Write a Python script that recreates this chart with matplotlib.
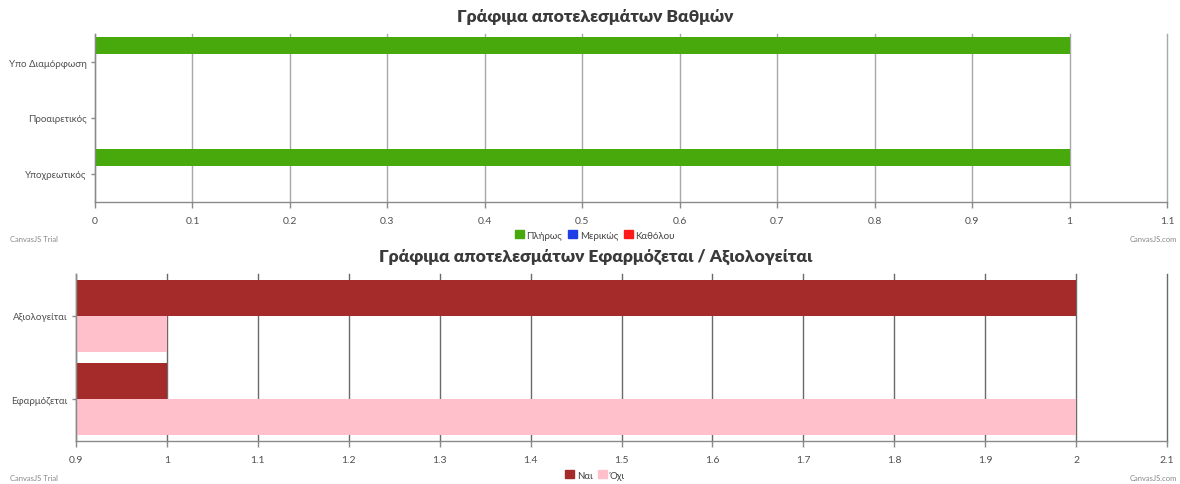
import numpy as np
import matplotlib
matplotlib.use("Agg")
import matplotlib.pyplot as plt
from matplotlib.patches import Patch

# top chart data
grade_cats = ["Υποχρεωτικός", "Προαιρετικός", "Υπο Διαμόρφωση"]
grade_series = ["Πλήρως", "Μερικώς", "Καθόλου"]
full = [1, 0, 1]
partial = [0, 0, 0]
none_ = [0, 0, 0]
grade_colors = ["#47A90C", "#1E3FE6", "#FF1A1A"]
grade_ticks = [0, 0.1, 0.2, 0.3, 0.4, 0.5, 0.6, 0.7, 0.8, 0.9, 1, 1.1]

# bottom chart data
apply_cats = ["Εφαρμόζεται", "Αξιολογείται"]
apply_series = ["Ναι", "Όχι"]
yes = [1, 2]
no = [2, 1]
apply_colors = ["#A52A2A", "#FFC0CB"]
apply_ticks = [0.9, 1, 1.1, 1.2, 1.3, 1.4, 1.5, 1.6, 1.7, 1.8, 1.9, 2, 2.1]

plt.rcParams["font.family"] = ["Lato", "DejaVu Sans"]
title_font = dict(family=["Lato", "DejaVu Sans"], fontsize=12.5,
                  fontweight="heavy", color="#3a3a3a")

fig = plt.figure(figsize=(11.8, 4.85), dpi=100)
fig.patch.set_facecolor("white")


def style_axes(ax, ticks, cats, gridcolor):
    ax.set_xlim(ticks[0], ticks[-1])
    ax.set_xticks(ticks)
    ax.set_xticklabels([f"{t:g}" for t in ticks])
    ax.set_ylim(-0.5, len(cats) - 0.5)
    ax.set_yticks(range(len(cats)))
    ax.set_yticklabels(cats)
    ax.grid(axis="x", color=gridcolor, lw=1)
    for gl in ax.get_xgridlines():
        gl.set_clip_on(False)
    ax.set_axisbelow(True)
    for s in ["top", "right"]:
        ax.spines[s].set_visible(False)
    for s in ["left", "bottom"]:
        ax.spines[s].set_color("#8a8a8a")
        ax.spines[s].set_linewidth(1)
    ax.tick_params(axis="both", colors="#8a8a8a", labelcolor="#505050",
                   labelsize=7, width=1)
    ax.tick_params(axis="x", pad=6, length=4, labelsize=7.5)
    ax.tick_params(axis="y", pad=3, length=3)


# top chart
ax1 = fig.add_axes([95 / 1180, 1 - 203 / 485, 1072 / 1180, 168 / 485])
y = np.arange(len(grade_cats))
h = 0.3
for vals, off, col in zip([full, partial, none_], [h, 0, -h], grade_colors):
    ax1.barh(y + off, vals, height=h, color=col)
style_axes(ax1, grade_ticks, grade_cats, "#a8a8a8")
fig.text(595 / 1180, 1 - 17 / 485, "Γράφιμα αποτελεσμάτων Βαθμών", ha="center",
         va="center", **title_font)
fig.legend(handles=[Patch(color=c, label=l) for c, l in zip(grade_colors, grade_series)],
           loc="center", bbox_to_anchor=(595 / 1180, 1 - 236 / 485), ncol=3,
           frameon=False, fontsize=7, handlelength=0.9, handleheight=0.9,
           handletextpad=0.3, columnspacing=0.6, labelcolor="#444444")

# bottom chart
ax2 = fig.add_axes([76 / 1180, 1 - 442 / 485, 1091 / 1180, 167 / 485])
y2 = np.arange(len(apply_cats))
h2 = 0.43
for vals, off, col in zip([yes, no], [h2 / 2, -h2 / 2], apply_colors):
    ax2.barh(y2 + off, vals, height=h2, color=col)
style_axes(ax2, apply_ticks, apply_cats, "#6a6a6a")
fig.text(596 / 1180, 1 - 257 / 485, "Γράφιμα αποτελεσμάτων Εφαρμόζεται / Αξιολογείται",
         ha="center", va="center", **title_font)
fig.legend(handles=[Patch(color=c, label=l) for c, l in zip(apply_colors, apply_series)],
           loc="center", bbox_to_anchor=(595 / 1180, 1 - 476 / 485), ncol=2,
           frameon=False, fontsize=7, handlelength=0.9, handleheight=0.9,
           handletextpad=0.3, columnspacing=0.6, labelcolor="#444444")

# watermark texts
for yy in [240, 479]:
    fig.text(10 / 1180, 1 - yy / 485, "CanvasJS Trial", fontsize=5.5,
             color="#888888", va="center", ha="left")
    fig.text(1177 / 1180, 1 - yy / 485, "CanvasJS.com", fontsize=5.5,
             color="#888888", va="center", ha="right")

fig.savefig("out.png", dpi=100)
